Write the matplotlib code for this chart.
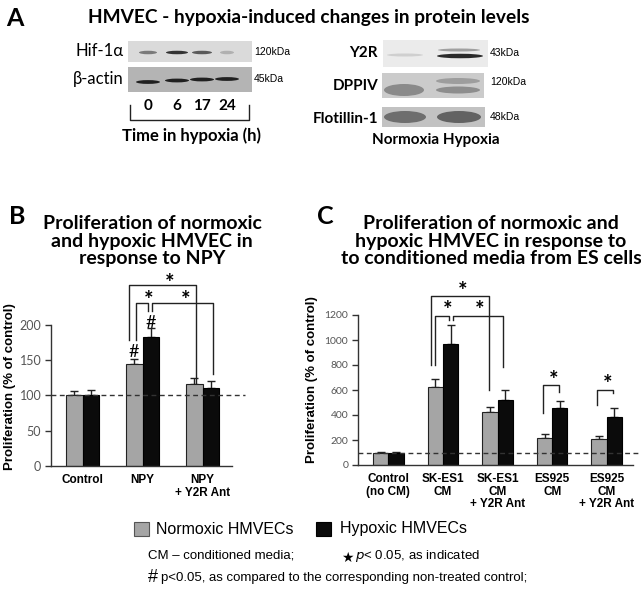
import matplotlib
matplotlib.use("Agg")
import matplotlib.pyplot as plt
from matplotlib.patches import Rectangle, Ellipse
import numpy as np

# ---------------- data ----------------
b_categories = ["Control", "NPY", "NPY\n+ Y2R Ant"]
b_normoxic = [100, 145, 116]
b_normoxic_err = [6, 7, 9]
b_hypoxic = [100, 182, 111]
b_hypoxic_err = [7, 13, 10]
b_yticks = [0, 50, 100, 150, 200]

c_categories = ["Control\n(no CM)", "SK-ES1\nCM", "SK-ES1\nCM\n+ Y2R Ant", "ES925\nCM", "ES925\nCM\n+ Y2R Ant"]
c_normoxic = [100, 625, 421, 219, 205]
c_normoxic_err = [5, 60, 40, 26, 30]
c_hypoxic = [100, 968, 520, 453, 381]
c_hypoxic_err = [8, 152, 80, 59, 77]
c_yticks = [0, 200, 400, 600, 800, 1000, 1200]

hif_lanes = ["0", "6", "17", "24"]
legend_labels = ["Normoxic HMVECs", "Hypoxic HMVECs"]

GRAY = "#a5a5a5"
BLACK = "#0b0b0b"
CAL = ["Lato", "DejaVu Sans"]
ARI = ["Liberation Sans", "DejaVu Sans"]

W, H = 641, 595
fig = plt.figure(figsize=(W / 100, H / 100), dpi=100)


def px_axes(x0, y0, x1, y1):
    return fig.add_axes([x0 / W, 1 - y1 / H, (x1 - x0) / W, (y1 - y0) / H])


def bar_panel(ax, cats, nv, ne, hv, he, yticks, xlim, tick_fs, dash_end):
    x = np.arange(len(cats))
    bw = 0.28
    ax.bar(x - bw / 2, nv, bw, color=GRAY, edgecolor="#222222", linewidth=0.8, zorder=2)
    ax.bar(x + bw / 2, hv, bw, color=BLACK, edgecolor="#000000", linewidth=0.8, zorder=2)
    ax.errorbar(x - bw / 2, nv, yerr=[np.zeros(len(nv)), ne], fmt="none", ecolor="#222222",
                elinewidth=1, capsize=3, capthick=1, zorder=1)
    ax.errorbar(x + bw / 2, hv, yerr=[np.zeros(len(hv)), he], fmt="none", ecolor="#222222",
                elinewidth=1, capsize=3, capthick=1, zorder=1)
    ax.set_xlim(*xlim)
    ax.set_ylim(0, yticks[-1])
    ax.set_yticks(yticks)
    ax.set_yticklabels([str(t) for t in yticks], fontfamily=CAL, fontsize=tick_fs, color="#555555")
    ax.set_xticks(x)
    ax.set_xticklabels(cats, fontfamily=ARI, fontweight="bold", fontsize=8.5, linespacing=1.05)
    ax.tick_params(axis="x", length=0, pad=6)
    ax.tick_params(axis="y", length=4, width=1, color="#333333", pad=3)
    for s in ["top", "right"]:
        ax.spines[s].set_visible(False)
    for s in ["left", "bottom"]:
        ax.spines[s].set_color("#333333")
        ax.spines[s].set_linewidth(1)
    ax.plot([xlim[0], dash_end], [100, 100], color="#333333", lw=1, dashes=(3.5, 2.5),
            clip_on=False, zorder=3)
    ax.patch.set_alpha(0)


def bracket(ax, xl, xr, top, yl, yr):
    ax.plot([xl, xl, xr, xr], [yl, top, top, yr], color="#222222", lw=1, clip_on=False, zorder=4)


def star(ax, x, y):
    ax.text(x, y, "*", ha="center", va="center", fontfamily=CAL, fontweight="bold",
            fontsize=16, clip_on=False)


# ---------------- panel B ----------------
axB = px_axes(51, 324.7, 232, 466)
bar_panel(axB, b_categories, b_normoxic, b_normoxic_err, b_hypoxic, b_hypoxic_err,
          b_yticks, (-0.525, 2.49), 9, 2.71)
axB.set_ylabel("Proliferation (% of control)", fontfamily=ARI, fontweight="bold", fontsize=9.5)
axB.yaxis.set_label_coords(-0.195, 0.56)
bracket(axB, 0.78, 1.89, 256, 178, 118)
bracket(axB, 0.886, 1.086, 231, 178, 219)
bracket(axB, 1.153, 2.169, 231, 219, 130)
star(axB, 1.447, 259)
star(axB, 1.097, 234)
star(axB, 1.72, 234)
axB.text(1 - 0.14, 161, "#", ha="center", va="center", fontfamily=CAL, fontsize=13)
axB.text(1 + 0.14, 202, "#", ha="center", va="center", fontfamily=CAL, fontsize=13)

# ---------------- panel C ----------------
axC = px_axes(358, 315, 633, 465)
bar_panel(axC, c_categories, c_normoxic, c_normoxic_err, c_hypoxic, c_hypoxic_err,
          c_yticks, (-0.555, 4.48), 7.5, 4.61)
axC.set_ylabel("Proliferation (% of control)", fontfamily=ARI, fontweight="bold", fontsize=9.5)
axC.yaxis.set_label_coords(-0.145, 0.567)
bracket(axC, 0.782, 1.85, 1352, 800, 600)
bracket(axC, 0.855, 1.118, 1192, 800, 1160)
bracket(axC, 1.179, 2.106, 1192, 1160, 787)
bracket(axC, 2.839, 3.132, 640, 413, 585)
bracket(axC, 3.817, 4.121, 600, 480, 578)
star(axC, 1.362, 1390)
star(axC, 1.081, 1235)
star(axC, 1.68, 1235)
star(axC, 3.035, 680)
star(axC, 4.018, 640)

# ---------------- overlay (titles, blots, legend, notes) ----------------
ov = fig.add_axes([0, 0, 1, 1], zorder=-1)
ov.set_xlim(0, W)
ov.set_ylim(H, 0)
ov.axis("off")

ov.text(15, 18, "A", fontfamily=CAL, fontweight="bold", fontsize=18, ha="center", va="center")
ov.text(309, 18, "HMVEC - hypoxia-induced changes in protein levels", fontfamily=CAL,
        fontweight="bold", fontsize=13.8, ha="center", va="center")
ov.text(17, 217, "B", fontfamily=CAL, fontweight="bold", fontsize=18, ha="center", va="center")
ov.text(152, 241, "Proliferation of normoxic\nand hypoxic HMVEC in\nresponse to NPY", fontfamily=CAL,
        fontweight="bold", fontsize=14, ha="center", va="center", linespacing=1.05)
ov.text(325, 217, "C", fontfamily=CAL, fontweight="bold", fontsize=18, ha="center", va="center")
ov.text(491, 241, "Proliferation of normoxic and\nhypoxic HMVEC in response to\nto conditioned media from ES cells",
        fontfamily=CAL, fontweight="bold", fontsize=14, ha="center", va="center", linespacing=1.05)

# left blots
ov.add_patch(Rectangle((128, 41), 124, 21, facecolor="#dadada", edgecolor="none"))
ov.add_patch(Rectangle((128, 67), 124, 25, facecolor="#b4b4b4", edgecolor="none"))
hif_x = [148, 177, 202, 227]
hif_c = ["#7a7a7a", "#333333", "#5a5a5a", "#b0b0b0"]
hif_w = [18, 22, 20, 14]
for xx, cc, ww in zip(hif_x, hif_c, hif_w):
    ov.add_patch(Ellipse((xx, 52.5), ww, 3.5, facecolor=cc, edgecolor="none"))
for xx, yy in zip(hif_x, [82, 80.5, 79.5, 79]):
    ov.add_patch(Ellipse((xx, yy), 24, 3.8, facecolor="#202020", edgecolor="none"))
ov.text(124, 51, "Hif-1α", fontfamily=CAL, fontsize=12, ha="right", va="center")
ov.text(124, 79, "β-actin", fontfamily=CAL, fontsize=12, ha="right", va="center")
ov.text(254, 52, "120kDa", fontfamily=ARI, fontsize=7.5, ha="left", va="center")
ov.text(254, 79, "45kDa", fontfamily=ARI, fontsize=7.5, ha="left", va="center")
for xx, lab in zip(hif_x, hif_lanes):
    ov.text(xx, 106, lab, fontfamily=CAL, fontweight="bold", fontsize=11, ha="center", va="center")
ov.plot([129.5, 129.5, 248.5, 248.5], [105, 120, 120, 105], color="#222222", lw=1)
ov.text(192, 136, "Time in hypoxia (h)", fontfamily=CAL, fontweight="bold", fontsize=12,
        ha="center", va="center")

# right blots
ov.add_patch(Rectangle((383, 40), 105, 27, facecolor="#ebebeb", edgecolor="none"))
ov.add_patch(Ellipse((405, 55), 36, 3, facecolor="#cfcfcf", edgecolor="none"))
ov.add_patch(Ellipse((459, 50), 42, 3, facecolor="#a0a0a0", edgecolor="none"))
ov.add_patch(Ellipse((460, 56), 46, 4.5, facecolor="#2a2a2a", edgecolor="none"))
ov.add_patch(Rectangle((382, 73), 102, 25, facecolor="#cbcbcb", edgecolor="none"))
ov.add_patch(Ellipse((404, 90), 40, 12, facecolor="#8a8a8a", edgecolor="none"))
ov.add_patch(Ellipse((458, 81), 44, 6, facecolor="#9d9d9d", edgecolor="none"))
ov.add_patch(Ellipse((458, 90), 44, 7, facecolor="#8d8d8d", edgecolor="none"))
ov.add_patch(Rectangle((382, 107), 103, 20, facecolor="#c2c2c2", edgecolor="none"))
ov.add_patch(Ellipse((405, 117), 42, 12, facecolor="#6e6e6e", edgecolor="none"))
ov.add_patch(Ellipse((459, 117), 44, 12, facecolor="#626262", edgecolor="none"))
ov.text(378, 53, "Y2R", fontfamily=CAL, fontweight="bold", fontsize=11, ha="right", va="center")
ov.text(378, 86, "DPPIV", fontfamily=CAL, fontweight="bold", fontsize=11, ha="right", va="center")
ov.text(378, 119, "Flotillin-1", fontfamily=CAL, fontweight="bold", fontsize=11, ha="right", va="center")
ov.text(490, 53, "43kDa", fontfamily=ARI, fontsize=7.5, ha="left", va="center")
ov.text(490, 82, "120kDa", fontfamily=ARI, fontsize=7.5, ha="left", va="center")
ov.text(490, 117, "48kDa", fontfamily=ARI, fontsize=7.5, ha="left", va="center")
ov.text(436, 140, "Normoxia Hypoxia", fontfamily=CAL, fontweight="bold", fontsize=11,
        ha="center", va="center")

# legend
ov.add_patch(Rectangle((134, 522), 15, 14, facecolor=GRAY, edgecolor="#555555", lw=0.8))
ov.text(156, 529, legend_labels[0], fontfamily=ARI, fontsize=11.5, ha="left", va="center")
ov.add_patch(Rectangle((316, 522), 15, 14, facecolor=BLACK, edgecolor="#000000", lw=0.8))
ov.text(340, 529, legend_labels[1], fontfamily=ARI, fontsize=11.5, ha="left", va="center")

# notes
ov.text(148, 556, "CM – conditioned media;", fontfamily=ARI, fontsize=9.5, ha="left", va="center")
ov.text(347, 558, "★", fontfamily=["DejaVu Sans"], fontsize=10, ha="center", va="center")
ov.text(355, 556, "$\\it{p}$< 0.05, as indicated", fontfamily=ARI, fontsize=9.5, ha="left",
        va="center")
ov.text(148, 578, "#", fontfamily=ARI, fontsize=13, ha="left", va="center")
ov.text(161, 578, "p<0.05, as compared to the corresponding non-treated control;", fontfamily=ARI,
        fontsize=9.5, ha="left", va="center")

fig.savefig("out.png", dpi=100)
